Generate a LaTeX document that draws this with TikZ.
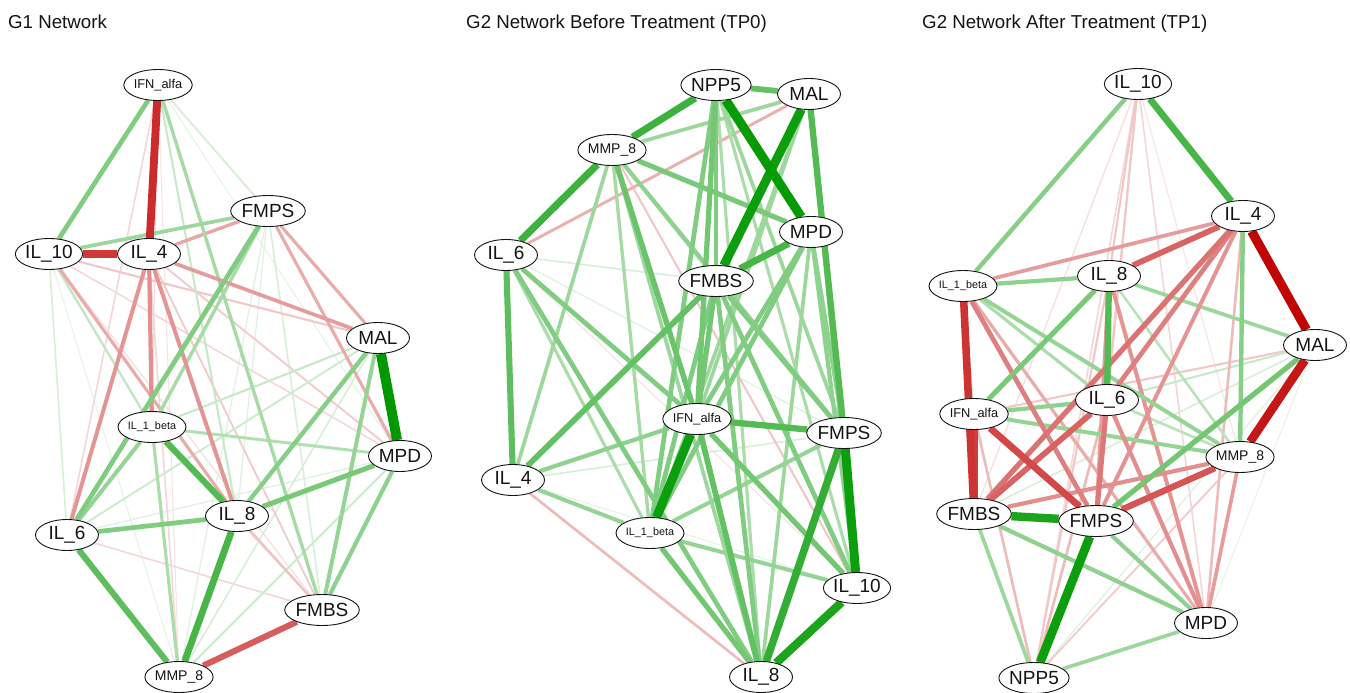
\documentclass[tikz,border=0pt]{standalone}
\usepackage{fontspec}
\setmainfont{Liberation Sans}
\usetikzlibrary{shapes.geometric}
\definecolor{gpos}{RGB}{0,153,0}
\definecolor{gneg}{RGB}{192,0,0}
\definecolor{ink}{RGB}{20,20,20}
\pgfdeclarelayer{bg}
\pgfdeclarelayer{edges}
\pgfsetlayers{bg,edges,main}
% weighted edges: #3 is the absolute weight in percent
\newcommand\posedge[3]{%
  \pgfmathtruncatemacro\edgeshade{min(100,#3*1.12)}%
  \draw[draw=gpos!\edgeshade!white, line width=#3*0.105pt] (#1) -- (#2);}
\newcommand\negedge[3]{%
  \pgfmathtruncatemacro\edgeshade{min(100,#3*1.12)}%
  \draw[draw=gneg!\edgeshade!white, line width=#3*0.105pt] (#1) -- (#2);}
\tikzset{
  var/.style={ellipse, draw=ink, line width=0.9pt, fill=white, text=ink,
    minimum width=63pt, minimum height=31pt, inner sep=0pt},
  big/.style={var, font=\fontsize{19}{19}\selectfont},
  lmmp/.style={var, font=\fontsize{14}{14}\selectfont},
  lifn/.style={var, font=\fontsize{12.8}{13}\selectfont},
  lilb/.style={var, font=\fontsize{10.8}{11}\selectfont},
  paneltitle/.style={anchor=base west, inner sep=0pt, text=ink,
    font=\fontsize{18.7}{19}\selectfont}
}
\begin{document}
\begin{tikzpicture}[x=1pt, y=-1pt]
\useasboundingbox (0,0) rectangle (1350,693);
\begin{pgfonlayer}{bg}
\fill[white] (0,0) rectangle (1350,693);
\end{pgfonlayer}

% ---------- titles ----------
\node[paneltitle] (t1) at (8,29) {G1 Network};
\node[paneltitle] (t2) at (466,29) {G2 Network Before Treatment (TP0)};
\node[paneltitle] (t3) at (922,29) {G2 Network After Treatment (TP1)};

% ---------- G1 nodes ----------
\node[lifn] (aIFN)  at (158,85)  {IFN\_alfa};
\node[big]  (aFMPS) at (268,211) {FMPS};
\node[big]  (aIL10) at (49,254)  {IL\_10};
\node[big]  (aIL4)  at (149,254) {IL\_4};
\node[big]  (aMAL)  at (378,338) {MAL};
\node[lilb] (aIL1b) at (152,427) {IL\_1\_beta};
\node[big]  (aMPD)  at (400,456) {MPD};
\node[big]  (aIL8)  at (237,516) {IL\_8};
\node[big]  (aIL6)  at (67,535)  {IL\_6};
\node[big]  (aFMBS) at (322,610) {FMBS};
\node[lmmp] (aMMP8) at (179,677) {MMP\_8};

% ---------- TP0 nodes ----------
\node[big]  (bNPP5) at (716,85)  {NPP5};
\node[big]  (bMAL)  at (809,94)  {MAL};
\node[lmmp] (bMMP8) at (612,150) {MMP\_8};
\node[big]  (bMPD)  at (811,232) {MPD};
\node[big]  (bIL6)  at (506,255) {IL\_6};
\node[big]  (bFMBS) at (716,281) {FMBS};
\node[lifn] (bIFN)  at (697,419) {IFN\_alfa};
\node[big]  (bFMPS) at (844,433) {FMPS};
\node[big]  (bIL4)  at (513,480) {IL\_4};
\node[lilb] (bIL1b) at (650,533) {IL\_1\_beta};
\node[big]  (bIL10) at (857,588) {IL\_10};
\node[big]  (bIL8)  at (761,677) {IL\_8};

% ---------- TP1 nodes ----------
\node[big]  (cIL10) at (1138,84)  {IL\_10};
\node[big]  (cIL4)  at (1243,216) {IL\_4};
\node[lilb] (cIL1b) at (963,286)  {IL\_1\_beta};
\node[big]  (cIL8)  at (1109,276) {IL\_8};
\node[big]  (cMAL)  at (1315,345) {MAL};
\node[big]  (cIL6)  at (1107,400) {IL\_6};
\node[lifn] (cIFN)  at (974,414)  {IFN\_alfa};
\node[lmmp] (cMMP8) at (1240,457) {MMP\_8};
\node[big]  (cFMBS) at (974,514)  {FMBS};
\node[big]  (cFMPS) at (1096,521) {FMPS};
\node[big]  (cMPD)  at (1206,623) {MPD};
\node[big]  (cNPP5) at (1034,678) {NPP5};

\begin{pgfonlayer}{edges}
% ---------- G1 edges (weak first) ----------
\negedge{aIFN}{aMMP8}{10}
\posedge{aIL10}{aMMP8}{10}
\posedge{aIFN}{aMPD}{10}
\negedge{aIFN}{aIL1b}{12}
\negedge{aIL10}{aFMBS}{12}
\posedge{aMPD}{aIL6}{12}
\posedge{aFMPS}{aIL8}{12}
\posedge{aFMPS}{aMMP8}{12}
\negedge{aIFN}{aIL6}{15}
\negedge{aIL6}{aFMBS}{15}
\negedge{aIL4}{aMMP8}{15}
\negedge{aIL1b}{aFMBS}{15}
\negedge{aIL10}{aMPD}{15}
\posedge{aIFN}{aFMPS}{15}
\posedge{aIFN}{aMAL}{15}
\posedge{aIL10}{aIL6}{15}
\posedge{aMAL}{aMMP8}{15}
\posedge{aFMPS}{aFMBS}{15}
\negedge{aIL4}{aMPD}{18}
\negedge{aIL4}{aFMBS}{18}
\posedge{aMAL}{aIL6}{18}
\posedge{aMPD}{aMMP8}{18}
\negedge{aIL10}{aMAL}{20}
\posedge{aIFN}{aIL8}{20}
\posedge{aMAL}{aIL1b}{20}
\negedge{aIL8}{aFMBS}{22}
\posedge{aIL10}{aIL1b}{22}
\posedge{aMPD}{aIL1b}{28}
\negedge{aFMPS}{aMAL}{30}
\negedge{aFMPS}{aMPD}{30}
\negedge{aIL10}{aIL8}{30}
\posedge{aIL1b}{aMMP8}{30}
\negedge{aIL4}{aFMPS}{32}
\posedge{aIFN}{aFMBS}{32}
\posedge{aFMPS}{aIL1b}{32}
\negedge{aIL4}{aMAL}{35}
\posedge{aFMPS}{aIL10}{35}
\negedge{aIL4}{aIL6}{38}
\negedge{aIL4}{aIL8}{38}
\posedge{aMAL}{aFMBS}{38}
\posedge{aIL1b}{aIL6}{38}
\negedge{aIL4}{aIL1b}{40}
\posedge{aMPD}{aFMBS}{40}
\posedge{aMAL}{aIL8}{42}
\posedge{aIFN}{aIL10}{45}
\posedge{aFMPS}{aIL6}{45}
\posedge{aIL6}{aIL8}{45}
\posedge{aMPD}{aIL8}{48}
\negedge{aFMBS}{aMMP8}{58}
\posedge{aIL6}{aMMP8}{58}
\posedge{aIL1b}{aIL8}{60}
\posedge{aIL8}{aMMP8}{65}
\negedge{aIL10}{aIL4}{70}
\negedge{aIFN}{aIL4}{75}
\posedge{aMAL}{aMPD}{95}

% ---------- TP0 edges (weak first) ----------
\negedge{bIL6}{bIL10}{10}
\posedge{bIL4}{bIL10}{10}
\posedge{bIL6}{bFMPS}{12}
\posedge{bIL6}{bFMBS}{15}
\posedge{bIL4}{bFMPS}{15}
\negedge{bMMP8}{bIL10}{20}
\posedge{bMMP8}{bFMBS}{20}
\negedge{bIL4}{bIL8}{25}
\negedge{bIL6}{bMAL}{28}
\posedge{bNPP5}{bIL10}{30}
\posedge{bNPP5}{bIL8}{30}
\posedge{bIL6}{bIL1b}{30}
\posedge{bMMP8}{bIL1b}{32}
\posedge{bMAL}{bMMP8}{35}
\posedge{bNPP5}{bFMPS}{35}
\posedge{bMAL}{bIL1b}{35}
\posedge{bMAL}{bIFN}{35}
\posedge{bMMP8}{bIL4}{35}
\posedge{bMMP8}{bIL8}{35}
\posedge{bMPD}{bIL8}{35}
\posedge{bIL4}{bIL1b}{38}
\posedge{bIL1b}{bFMPS}{38}
\posedge{bIL1b}{bIL10}{38}
\posedge{bIL4}{bIFN}{40}
\posedge{bMAL}{bIL10}{40}
\posedge{bMPD}{bFMPS}{40}
\posedge{bMPD}{bIL10}{40}
\posedge{bMMP8}{bFMPS}{40}
\posedge{bNPP5}{bIL1b}{45}
\posedge{bNPP5}{bFMBS}{45}
\posedge{bFMBS}{bIL8}{45}
\posedge{bFMBS}{bFMPS}{45}
\posedge{bFMBS}{bIL10}{45}
\posedge{bFMBS}{bIL1b}{45}
\posedge{bIL6}{bIFN}{45}
\posedge{bIL6}{bIL8}{45}
\posedge{bMPD}{bIL1b}{45}
\posedge{bMPD}{bIFN}{45}
\posedge{bMMP8}{bMPD}{48}
\posedge{bNPP5}{bIFN}{50}
\posedge{bFMBS}{bIFN}{50}
\posedge{bIFN}{bIL10}{50}
\posedge{bIL1b}{bIL8}{50}
\posedge{bMMP8}{bIFN}{52}
\posedge{bNPP5}{bMAL}{55}
\posedge{bFMBS}{bIL4}{55}
\posedge{bIFN}{bIL8}{55}
\posedge{bIL6}{bIL4}{58}
\posedge{bIFN}{bFMPS}{60}
\posedge{bMAL}{bFMPS}{60}
\posedge{bMPD}{bFMBS}{65}
\posedge{bNPP5}{bMMP8}{68}
\posedge{bMMP8}{bIL6}{68}
\posedge{bFMPS}{bIL8}{72}
\posedge{bIL10}{bIL8}{80}
\posedge{bMAL}{bFMBS}{85}
\posedge{bIFN}{bIL1b}{85}
\posedge{bFMPS}{bIL10}{85}
\posedge{bNPP5}{bMPD}{88}

% ---------- TP1 edges (weak first) ----------
\negedge{cIL10}{cMMP8}{10}
\posedge{cMAL}{cMPD}{10}
\negedge{cIL10}{cFMBS}{12}
\posedge{cMAL}{cNPP5}{12}
\negedge{cIL10}{cMPD}{15}
\negedge{cIL10}{cNPP5}{15}
\posedge{cMAL}{cFMBS}{15}
\negedge{cIL10}{cFMPS}{18}
\negedge{cMMP8}{cNPP5}{18}
\negedge{cIL10}{cIL8}{20}
\negedge{cIL10}{cIL6}{20}
\negedge{cIL8}{cNPP5}{20}
\negedge{cMAL}{cIFN}{20}
\posedge{cIL6}{cMAL}{20}
\posedge{cIL1b}{cIFN}{20}
\negedge{cIL4}{cMPD}{25}
\negedge{cIFN}{cNPP5}{25}
\negedge{cIL6}{cNPP5}{25}
\posedge{cIL8}{cMMP8}{25}
\posedge{cIL6}{cMMP8}{25}
\negedge{cIL1b}{cMPD}{30}
\posedge{cIL1b}{cIL6}{30}
\negedge{cIL4}{cIL1b}{35}
\negedge{cIL8}{cFMPS}{35}
\negedge{cMMP8}{cMPD}{35}
\posedge{cIL8}{cMAL}{35}
\posedge{cFMBS}{cNPP5}{35}
\posedge{cMPD}{cNPP5}{35}
\negedge{cIL8}{cMPD}{38}
\negedge{cIL4}{cFMPS}{38}
\posedge{cIL1b}{cMMP8}{38}
\posedge{cIFN}{cMMP8}{38}
\negedge{cIL6}{cMPD}{40}
\negedge{cMMP8}{cFMBS}{40}
\posedge{cIL1b}{cIL8}{40}
\posedge{cIL6}{cIFN}{40}
\posedge{cFMBS}{cMPD}{40}
\posedge{cFMPS}{cMPD}{40}
\posedge{cIL4}{cMMP8}{42}
\posedge{cIL10}{cIL1b}{42}
\negedge{cIL4}{cIL6}{45}
\negedge{cIL1b}{cFMPS}{45}
\negedge{cIL6}{cFMPS}{48}
\posedge{cIL8}{cIFN}{48}
\negedge{cIL4}{cFMBS}{50}
\posedge{cMAL}{cFMPS}{50}
\negedge{cIL4}{cIL8}{55}
\negedge{cIL6}{cFMBS}{55}
\posedge{cIL8}{cIL6}{60}
\negedge{cMMP8}{cFMPS}{60}
\posedge{cIL10}{cIL4}{65}
\negedge{cIFN}{cFMPS}{65}
\negedge{cIFN}{cFMBS}{68}
\negedge{cIL1b}{cFMBS}{72}
\posedge{cFMBS}{cFMPS}{80}
\negedge{cMAL}{cMMP8}{82}
\posedge{cFMPS}{cNPP5}{85}
\negedge{cIL4}{cMAL}{88}
\end{pgfonlayer}
\end{tikzpicture}
\end{document}
